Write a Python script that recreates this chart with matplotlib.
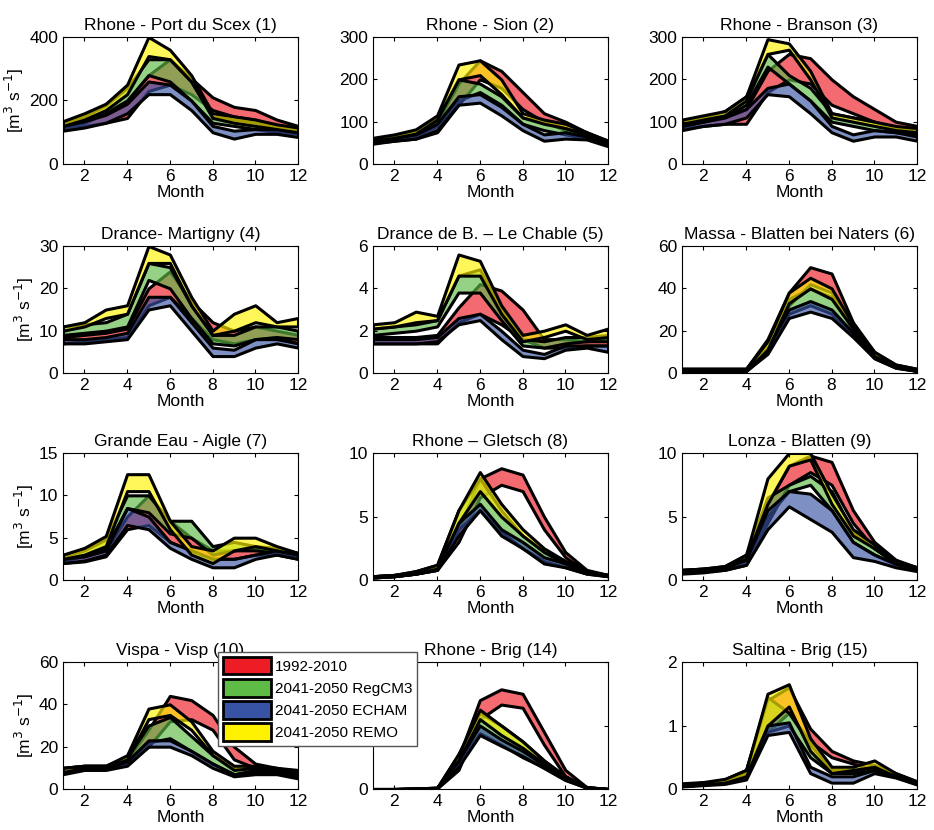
import matplotlib
matplotlib.use('Agg')
import matplotlib.pyplot as plt
from matplotlib.patches import Patch
import numpy as np

plt.rcParams['font.family'] = ['Liberation Sans', 'DejaVu Sans']

months = np.arange(1, 13)

titles = ['Rhone - Port du Scex (1)', 'Rhone - Sion (2)', 'Rhone - Branson (3)',
          'Drance- Martigny (4)', 'Drance de B. \u2013 Le Chable (5)', 'Massa - Blatten bei Naters (6)',
          'Grande Eau - Aigle (7)', 'Rhone \u2013 Gletsch (8)', 'Lonza - Blatten (9)',
          'Vispa - Visp (10)', 'Rhone - Brig (14)', 'Saltina - Brig (15)']
ymax = [400, 300, 300, 30, 6, 60, 15, 10, 10, 60, 200, 2]
ystep = [200, 100, 100, 10, 2, 20, 5, 5, 5, 20, 100, 1]

scenarios = ['1992-2010', '2041-2050 RegCM3', '2041-2050 ECHAM', '2041-2050 REMO']
colors = ['#ee1c25', '#5dbb46', '#3953a4', '#fff200']

# (lower, upper) bands per station, order: red, green, blue, yellow
red_lo = [
    [110, 120, 130, 145, 230, 250, 220, 170, 150, 140, 120, 110],
    [50, 55, 60, 75, 140, 200, 180, 130, 100, 80, 65, 45],
    [85, 90, 95, 95, 170, 200, 190, 140, 120, 100, 85, 75],
    [7, 7.5, 8, 8.5, 16, 18, 13, 8, 7, 8, 8.5, 7],
    [1.4, 1.4, 1.4, 1.4, 2.4, 2.8, 2.3, 1.6, 1.2, 1.2, 1.3, 1.3],
    [1, 1, 1, 1, 10, 32, 42, 38, 20, 8, 3, 1],
    [2.0, 2.2, 2.8, 6.0, 6.5, 4.5, 3.5, 2.5, 2.5, 3.0, 3.0, 2.5],
    [0.2, 0.3, 0.5, 0.8, 3.0, 6.5, 7.5, 7.0, 4.0, 1.8, 0.6, 0.3],
    [0.6, 0.7, 0.8, 1.2, 4.5, 7.5, 8.5, 7.5, 4.5, 2.5, 1.3, 0.8],
    [8, 10, 10, 12, 20, 32, 33, 28, 14, 10, 9, 6],
    [0, 0, 0, 1, 30, 110, 133, 128, 70, 20, 2, 0],
    [0.05, 0.07, 0.1, 0.2, 0.9, 1.2, 0.75, 0.5, 0.4, 0.3, 0.2, 0.08],
]
red_hi = [
    [120, 140, 165, 200, 280, 330, 270, 210, 180, 170, 140, 120],
    [60, 65, 75, 100, 190, 245, 220, 170, 120, 100, 75, 55],
    [95, 105, 110, 130, 220, 260, 250, 200, 160, 130, 100, 90],
    [8.5, 9, 9.5, 10.5, 20, 24, 17, 12, 10, 11, 10, 9],
    [1.7, 1.7, 1.7, 1.8, 3.1, 4.2, 3.9, 3.0, 1.6, 1.6, 1.5, 1.6],
    [2, 2, 2, 2, 16, 38, 50, 47, 24, 10, 4, 2],
    [2.5, 2.8, 3.5, 7.5, 10.0, 7.0, 5.0, 3.5, 3.5, 3.8, 3.5, 3.0],
    [0.3, 0.4, 0.6, 1.0, 4.0, 8.0, 8.8, 8.3, 5.0, 2.2, 0.8, 0.4],
    [0.8, 0.9, 1.0, 1.6, 6.0, 9.0, 9.8, 9.3, 5.5, 3.0, 1.6, 1.0],
    [10, 11, 11, 14, 28, 44, 42, 35, 20, 12, 10, 9],
    [0, 0, 1, 2, 50, 140, 157, 150, 90, 30, 3, 0],
    [0.08, 0.1, 0.15, 0.3, 1.4, 1.6, 0.95, 0.6, 0.45, 0.38, 0.25, 0.12],
]
green_lo = [
    [115, 130, 160, 200, 280, 260, 200, 130, 120, 110, 100, 95],
    [52, 58, 65, 90, 150, 170, 140, 95, 80, 70, 60, 45],
    [90, 100, 110, 140, 230, 190, 150, 100, 90, 80, 75, 70],
    [9, 9.5, 10, 11, 22, 20, 13, 7, 6.5, 8, 8.5, 8],
    [1.8, 1.9, 2.0, 2.2, 3.8, 3.8, 2.5, 1.3, 1.2, 1.4, 1.5, 1.5],
    [1, 1, 1, 1, 10, 28, 32, 28, 18, 7, 2.5, 1],
    [2.3, 2.8, 3.8, 8.5, 8.0, 5.5, 5.0, 3.0, 3.5, 3.5, 3.2, 2.8],
    [0.2, 0.3, 0.5, 0.8, 4.0, 5.5, 3.8, 2.5, 1.5, 1.0, 0.5, 0.3],
    [0.6, 0.7, 0.9, 1.5, 5.0, 7.0, 7.5, 5.5, 3.0, 2.0, 1.2, 0.8],
    [8, 10, 10, 13, 22, 24, 18, 12, 7, 9, 8, 6],
    [0, 0, 0, 1, 40, 88, 70, 50, 34, 15, 2, 0],
    [0.05, 0.07, 0.1, 0.2, 0.9, 1.0, 0.5, 0.25, 0.25, 0.3, 0.2, 0.08],
]
green_hi = [
    [130, 150, 185, 240, 330, 330, 260, 150, 140, 130, 115, 105],
    [60, 66, 80, 110, 200, 190, 160, 110, 100, 85, 70, 50],
    [100, 110, 125, 160, 260, 210, 180, 120, 110, 100, 85, 80],
    [11, 11.5, 12, 14, 26, 25, 16, 9, 9, 11, 11, 10],
    [2.1, 2.2, 2.3, 2.5, 4.6, 4.9, 3.0, 1.6, 1.5, 1.7, 1.7, 1.8],
    [2, 2, 2, 2, 15, 35, 40, 36, 22, 9, 3.5, 1.5],
    [2.8, 3.5, 4.8, 10.0, 10.0, 7.0, 7.0, 4.0, 4.5, 4.0, 3.8, 3.2],
    [0.3, 0.4, 0.7, 1.2, 5.5, 8.0, 5.5, 3.5, 2.3, 1.5, 0.7, 0.4],
    [0.8, 0.9, 1.1, 2.0, 6.5, 7.5, 8.2, 7.0, 3.8, 2.5, 1.4, 1.0],
    [10, 11, 11, 15, 30, 34, 25, 16, 10, 10, 9, 8],
    [0, 0, 1, 2, 55, 120, 100, 75, 45, 20, 3, 0],
    [0.08, 0.1, 0.15, 0.3, 1.45, 1.2, 0.7, 0.3, 0.3, 0.35, 0.22, 0.1],
]
blue_lo = [
    [105, 115, 130, 160, 220, 220, 170, 100, 80, 95, 95, 85],
    [48, 55, 60, 80, 140, 145, 115, 80, 55, 60, 58, 42],
    [80, 90, 95, 110, 165, 160, 120, 75, 55, 65, 65, 55],
    [7, 7, 7.5, 8, 15, 16, 10, 4, 4, 6, 7, 6],
    [1.4, 1.4, 1.4, 1.5, 2.3, 2.5, 1.6, 0.8, 0.7, 1.1, 1.2, 1.0],
    [1, 1, 1, 1, 9, 26, 29, 26, 17, 7, 2.5, 1],
    [2.0, 2.3, 3.0, 6.5, 6.0, 3.8, 2.5, 1.5, 1.5, 2.5, 3.0, 2.5],
    [0.2, 0.3, 0.5, 0.8, 3.5, 5.5, 3.5, 2.5, 1.3, 1.0, 0.5, 0.3],
    [0.5, 0.6, 0.8, 1.2, 4.0, 5.8, 4.8, 3.8, 1.8, 1.5, 1.0, 0.7],
    [7, 9, 9, 11, 20, 20, 16, 10, 6, 7, 7, 5],
    [0, 0, 0, 1, 35, 85, 68, 52, 33, 14, 2, 0],
    [0.04, 0.06, 0.08, 0.15, 0.85, 0.9, 0.25, 0.1, 0.1, 0.25, 0.18, 0.07],
]
blue_hi = [
    [120, 135, 155, 190, 260, 250, 200, 120, 105, 110, 110, 100],
    [55, 62, 70, 95, 160, 165, 135, 95, 70, 75, 65, 50],
    [90, 100, 110, 130, 180, 190, 150, 90, 70, 80, 75, 65],
    [8, 8, 8.5, 9.5, 18, 18, 12, 6, 5.5, 8, 8, 7],
    [1.6, 1.6, 1.6, 1.7, 2.6, 2.8, 2.0, 1.1, 0.9, 1.3, 1.3, 1.3],
    [1.5, 1.5, 1.5, 1.5, 12, 30, 34, 30, 19, 8, 3, 1.5],
    [2.5, 2.8, 3.5, 8.5, 7.5, 4.5, 3.5, 2.5, 2.5, 3.0, 3.5, 3.0],
    [0.3, 0.4, 0.6, 1.0, 4.5, 6.0, 4.0, 3.0, 1.8, 1.3, 0.6, 0.4],
    [0.7, 0.8, 1.0, 1.6, 5.5, 7.0, 6.8, 5.5, 3.0, 2.0, 1.3, 0.9],
    [9, 10, 10, 13, 23, 23, 18, 12, 7, 8, 8, 6],
    [0, 0, 1, 2, 45, 100, 78, 60, 38, 17, 3, 0],
    [0.07, 0.09, 0.12, 0.25, 1.0, 1.05, 0.35, 0.2, 0.2, 0.3, 0.2, 0.1],
]
yellow_lo = [
    [120, 140, 170, 220, 340, 330, 260, 145, 130, 120, 110, 100],
    [55, 62, 72, 105, 200, 210, 165, 110, 95, 85, 70, 50],
    [95, 105, 115, 150, 260, 270, 200, 110, 100, 90, 80, 75],
    [10, 11, 13, 14, 26, 26, 16, 9, 10, 12, 11, 11],
    [2.1, 2.2, 2.4, 2.5, 4.6, 4.6, 2.8, 1.5, 1.7, 2.0, 1.6, 1.7],
    [1, 1, 1, 1, 11, 33, 40, 35, 21, 8, 3, 1],
    [2.5, 3.0, 4.0, 10.5, 10.5, 6.0, 3.0, 2.0, 3.5, 4.0, 3.5, 3.0],
    [0.2, 0.3, 0.5, 0.9, 4.5, 7.0, 5.0, 3.5, 2.2, 1.3, 0.6, 0.3],
    [0.6, 0.7, 0.9, 1.7, 6.0, 9.0, 9.5, 6.0, 3.5, 2.5, 1.3, 0.8],
    [8, 10, 10, 14, 33, 35, 28, 16, 9, 10, 9, 7],
    [0, 0, 0, 1, 45, 110, 85, 65, 40, 17, 2, 0],
    [0.05, 0.07, 0.1, 0.2, 1.0, 1.3, 0.6, 0.25, 0.3, 0.35, 0.2, 0.08],
]
yellow_hi = [
    [135, 160, 190, 250, 400, 360, 280, 160, 150, 140, 125, 115],
    [62, 70, 82, 115, 235, 245, 200, 120, 105, 95, 75, 55],
    [105, 115, 125, 160, 295, 285, 220, 120, 110, 100, 90, 85],
    [11, 12, 15, 16, 30, 28, 18, 10, 14, 16, 12, 13],
    [2.3, 2.4, 2.9, 2.7, 5.6, 5.3, 3.2, 1.8, 2.0, 2.3, 1.8, 2.1],
    [2, 2, 2, 2, 15, 38, 45, 40, 23, 10, 4, 2],
    [3.0, 3.8, 5.2, 12.5, 12.5, 7.0, 4.0, 3.5, 5.0, 5.0, 4.0, 3.2],
    [0.3, 0.4, 0.7, 1.2, 5.5, 8.5, 6.0, 4.0, 2.5, 1.5, 0.7, 0.4],
    [0.8, 0.9, 1.1, 2.0, 8.0, 10.0, 10.0, 6.8, 4.0, 2.8, 1.5, 1.0],
    [10, 11, 11, 16, 38, 40, 32, 18, 11, 11, 10, 8],
    [0, 0, 1, 2, 55, 125, 100, 75, 45, 20, 3, 0],
    [0.09, 0.11, 0.16, 0.3, 1.5, 1.65, 0.8, 0.35, 0.35, 0.45, 0.25, 0.12],
]

bands = [(red_lo, red_hi), (green_lo, green_hi), (blue_lo, blue_hi), (yellow_lo, yellow_hi)]

W, H = 934, 830
fig = plt.figure(figsize=(W / 100, H / 100), dpi=100)

col_left = [63, 373, 682]
row_top = [37, 246, 453, 662]
ax_w, ax_h = 235, 127

for i, title in enumerate(titles):
    r, c = divmod(i, 3)
    ax = fig.add_axes([col_left[c] / W, 1 - (row_top[r] + ax_h) / H, ax_w / W, ax_h / H])
    for (lo, hi), col in zip(bands, colors):
        fc = matplotlib.colors.to_rgba(col, 0.65)
        ax.fill_between(months, lo[i], hi[i], facecolor=fc, edgecolor='black', linewidth=2.2)
    ax.set_xlim(1, 12)
    ax.set_ylim(0, ymax[i])
    ax.set_xticks([2, 4, 6, 8, 10, 12])
    yt = np.arange(0, ymax[i] + ystep[i] / 2, ystep[i])
    ax.set_yticks(yt)
    if i == 10:
        # the legend sits over these labels in the original
        ax.set_yticklabels(['0'] + [''] * (len(yt) - 1))
    else:
        ax.yaxis.set_major_formatter(matplotlib.ticker.FormatStrFormatter('%g'))
    ax.tick_params(direction='in', top=True, right=True, labelsize=12.5, length=3)
    ax.set_title(title, fontsize=12.5, pad=5)
    ax.set_xlabel('Month', fontsize=12.5, labelpad=1)
    if c == 0:
        ax.set_ylabel('[m$^3$ s$^{-1}$]', fontsize=12.5, labelpad=2)

handles = [Patch(facecolor=col, edgecolor='black', linewidth=2) for col in colors]
fig.legend(handles, scenarios, loc='upper left', bbox_to_anchor=(218 / W, 1 - 652 / H),
           fontsize=11, fancybox=False, edgecolor='#555555', framealpha=1,
           handlelength=3.1, handleheight=1.35, labelspacing=0.32, borderpad=0.35,
           handletextpad=0.25, borderaxespad=0)

fig.savefig('out.png', dpi=100)
